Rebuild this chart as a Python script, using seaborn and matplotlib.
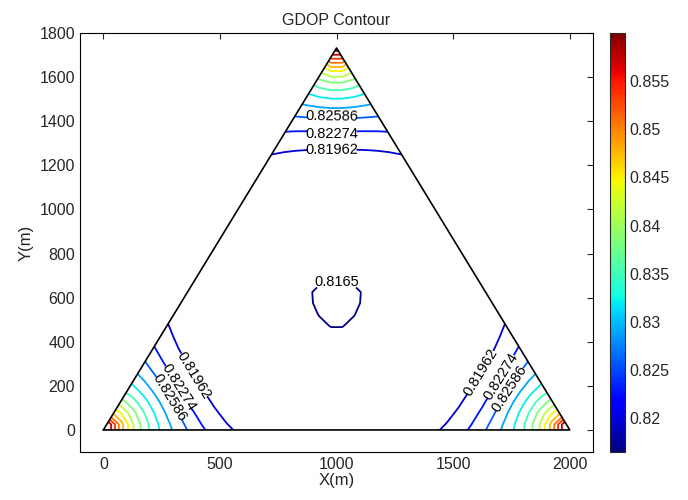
import numpy as np
import matplotlib
matplotlib.use("Agg")
import matplotlib.pyplot as plt
from matplotlib.patches import Polygon
from matplotlib.colors import Normalize
import seaborn as sns
import pandas as pd

# ---------------- data ----------------
anchor_x = [0.0, 2000.0, 1000.0]
anchor_y = [0.0, 0.0, 1732.05]

contour_levels = [0.8165, 0.81962, 0.82274, 0.82586, 0.82898, 0.8321, 0.83522,
                  0.83834, 0.84146, 0.84458, 0.8477, 0.85082, 0.85394, 0.85706,
                  0.86018]
labeled_levels = [0.8165, 0.81962, 0.82274, 0.82586]
label_positions = [(1000, 650),
                   (980, 1262), (390, 250), (1634, 250),
                   (980, 1352), (320, 190), (1716, 204),
                   (980, 1420), (272, 136), (1771, 195)]
cbar_range = [0.8165, 0.86]
cbar_ticks = [0.82, 0.825, 0.83, 0.835, 0.84, 0.845, 0.85, 0.855]
x_ticks = [0, 500, 1000, 1500, 2000]
y_ticks = [0, 200, 400, 600, 800, 1000, 1200, 1400, 1600, 1800]

# GDOP surface model parameters (fitted to the contour positions in the picture)
gdop_min = 0.8165
min_loop_radius = 105.0
radial_gain, radial_r0, radial_power = 0.00956, 850.0, 8.0
anchor_gain1, anchor_scale1 = 0.0287, 150.0
anchor_gain2, anchor_scale2 = 0.0147, 92.0
grid_step = 50.0

# ---------------- field ----------------
ax_arr = np.array(anchor_x)
ay_arr = np.array(anchor_y)
cx, cy = ax_arr.mean(), ay_arr.mean()


def surface(X, Y):
    r = np.hypot(X - cx, Y - cy)
    Z = radial_gain * (1.0 - np.exp(-(r / radial_r0) ** radial_power))
    for axx, ayy in zip(ax_arr, ay_arr):
        d = np.hypot(X - axx, Y - ayy)
        Z = Z + anchor_gain1 * np.exp(-d / anchor_scale1) \
              + anchor_gain2 * np.exp(-d / anchor_scale2)
    return Z


gx = np.arange(-25.0, 2050.0 + 1, grid_step)
gy = np.arange(-25.0, 1800.0, grid_step)
X, Y = np.meshgrid(gx, gy)
Z = surface(X, Y)
Z = Z + gdop_min - surface(np.array(cx + min_loop_radius), np.array(cy))

# ---------------- plot ----------------
sns.set_style("white")
plt.rcParams["font.family"] = ["Liberation Sans", "DejaVu Sans"]
plt.rcParams["xtick.direction"] = "in"
plt.rcParams["ytick.direction"] = "in"

fig = plt.figure(figsize=(6.88, 5.0), dpi=100)
ax = fig.add_axes([0.1163, 0.096, 0.7457, 0.838])
cax = fig.add_axes([0.886, 0.096, 0.022, 0.838])

norm = Normalize(vmin=cbar_range[0], vmax=cbar_range[1])
cs = ax.contour(X, Y, Z, levels=contour_levels, cmap="jet", norm=norm,
                linewidths=1.3)
tri = Polygon(np.column_stack([ax_arr, ay_arr]), closed=True,
              transform=ax.transData, facecolor="none", edgecolor="none")
ax.add_patch(tri)
cs.set_clip_path(tri)

texts = ax.clabel(cs, levels=labeled_levels, manual=label_positions,
                  inline=True, inline_spacing=0, fontsize=10.5, fmt="%.5g",
                  colors="black")
# nudge the two stacked labels at the top apart a little
for t in texts:
    tx, ty = t.get_position()
    if ty > 1390:
        t.set_position((tx, ty + 12))
    elif 1300 < ty <= 1390:
        t.set_position((tx, ty - 10))

tri_df = pd.DataFrame({"x": list(anchor_x) + [anchor_x[0]],
                       "y": list(anchor_y) + [anchor_y[0]]})
sns.lineplot(data=tri_df, x="x", y="y", sort=False, estimator=None,
             color="black", linewidth=1.2, ax=ax)

ax.set_xlim(-100, 2100)
ax.set_ylim(-100, 1800)
ax.set_xticks(x_ticks)
ax.set_yticks(y_ticks)
ax.tick_params(axis="both", labelsize=11.5, top=True, right=True,
               length=4, width=0.8, direction="in")
for s in ax.spines.values():
    s.set_linewidth(0.8)
    s.set_color("black")
ax.set_xlabel("X(m)", fontsize=12, labelpad=1)
ax.set_ylabel("Y(m)", fontsize=12, labelpad=4)
ax.set_title("GDOP Contour", fontsize=11.5, pad=6)

sm = plt.cm.ScalarMappable(norm=norm, cmap="jet")
cb = fig.colorbar(sm, cax=cax, ticks=cbar_ticks)
cb.ax.set_yticklabels([f"{t:g}" for t in cbar_ticks])
cb.ax.tick_params(labelsize=11.5, direction="in", length=4, width=0.8,
                  left=True, right=True)
cb.outline.set_linewidth(0.8)

fig.savefig("out.png", dpi=100)
